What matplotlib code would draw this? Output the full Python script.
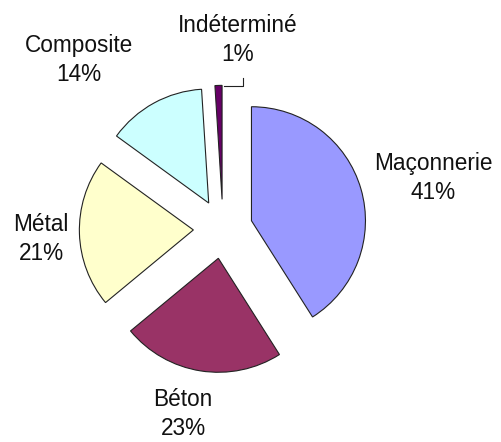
import numpy as np
import matplotlib.pyplot as plt

# Data
categories = ['Maçonnerie', 'Béton', 'Métal', 'Composite', 'Indéterminé']
values = [41, 23, 21, 14, 1]
colors = ['#9999FF', '#993366', '#FFFFCC', '#CCFFFF', '#660066']

plt.rcParams['font.family'] = ['Liberation Sans', 'DejaVu Sans']

fig = plt.figure(figsize=(5.02, 4.42), dpi=100)
ax = fig.add_axes([0, 0, 1, 1])

explode = [0.26] * len(values)
wedges, _ = ax.pie(values, colors=colors, explode=explode, startangle=90,
                   counterclock=False, radius=1.0,
                   wedgeprops=dict(edgecolor='#222222', linewidth=0.8))

# pixel based frame: 1 data unit = 114 px, pie centre at (223, 229) px
scale = 114.0
cx, cy = 223.0, 229.0
ax.set_aspect('auto')
ax.set_xlim(-cx / scale, (502 - cx) / scale)
ax.set_ylim(-(442 - cy) / scale, cy / scale)
ax.axis('off')

# label anchors (centre of text block, in pixels from top-left)
label_px = [(433, 178), (183, 414), (41, 239), (79, 60), (238, 40)]
for cat, val, (px, py) in zip(categories, values, label_px):
    ax.text((px - cx) / scale, (cy - py) / scale, f'{cat}\n{val}%',
            ha='center', va='center', fontsize=16.3, linespacing=1.38,
            color='#111111')

# leader line for the smallest slice
w = wedges[-1]
ang = np.deg2rad(w.theta2)
tx = w.center[0] + w.r * np.cos(ang)
ty = w.center[1] + w.r * np.sin(ang)
lx = (243 - cx) / scale
ax.plot([tx + 0.08, lx, lx], [ty, ty, ty + 0.07],
        color='#222222', linewidth=0.8)

fig.savefig('out.png', dpi=100)
